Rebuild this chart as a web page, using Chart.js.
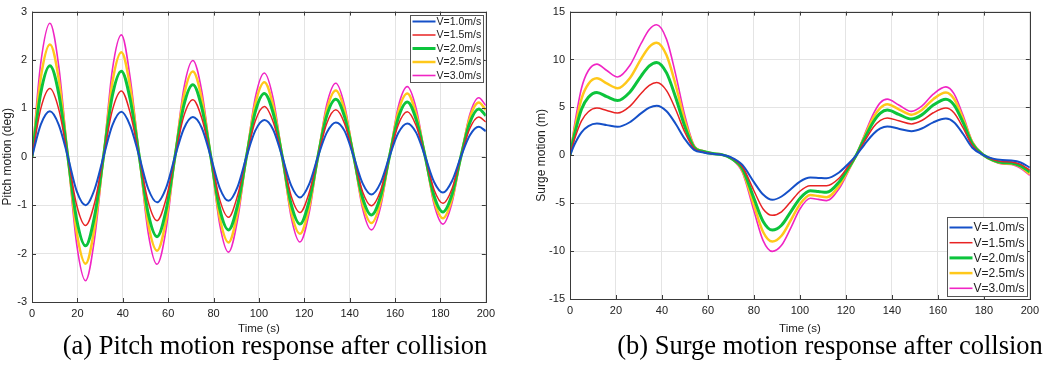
<!DOCTYPE html>
<html>
<head>
<meta charset="utf-8">
<script src="https://cdn.jsdelivr.net/npm/chart.js@4.4.1/dist/chart.umd.min.js"></script>
<style>
  body { margin: 0; background: #fff; width: 1052px; height: 369px; overflow: hidden; position: relative; }
  canvas { position: absolute; top: 0; }
  #pitchChart { left: 0; }
  #surgeChart { left: 534px; }
  .caption { position: absolute; top: 332px; line-height: 1; font-family: "Liberation Serif", "Times New Roman", serif;
             font-size: 26.5px; color: #000; white-space: nowrap; transform: translateX(-50%); }
</style>
</head>
<body>
<canvas id="pitchChart" width="500" height="340"></canvas>
<canvas id="surgeChart" width="510" height="340"></canvas>
<div class="caption" style="left:275px">(a) Pitch motion response after collision</div>
<div class="caption" style="left:830px">(b) Surge motion response after collsion</div>
<script>
// --- Data ---
const seriesLabels = ["V=1.0m/s", "V=1.5m/s", "V=2.0m/s", "V=2.5m/s", "V=3.0m/s"];
const xTicks = [0, 20, 40, 60, 80, 100, 120, 140, 160, 180, 200];
const pitchTicks = [-3, -2, -1, 0, 1, 2, 3];
const surgeTicks = [-15, -10, -5, 0, 5, 10, 15];

// pitch motion (deg), sampled at these times (s)
const pitchTime = [0, 3.9, 7.9, 11.8, 15.8, 19.7, 23.6, 27.6, 31.5, 35.4, 39.4, 43.3, 47.3, 51.2, 55.1, 59.1,
  63, 66.9, 70.9, 74.8, 78.8, 82.7, 86.6, 90.6, 94.5, 98.4, 102.4, 106.3, 110.3, 114.2, 118.1, 122.1,
  126, 129.9, 133.9, 137.8, 141.8, 145.7, 149.6, 153.6, 157.5, 161.4, 165.4, 169.3, 173.3, 177.2, 181.1, 185.1,
  189, 192.9, 196.9, 200];
const pitchV10 = [0, 0.67, 0.94, 0.66, 0, -0.71, -1.0, -0.67, 0, 0.65, 0.93, 0.64, 0, -0.66, -0.94, -0.64,
  0, 0.58, 0.82, 0.6, 0, -0.64, -0.91, -0.62, 0, 0.54, 0.76, 0.56, 0, -0.59, -0.84, -0.57,
  0, 0.5, 0.71, 0.53, 0, -0.55, -0.78, -0.54, 0, 0.49, 0.69, 0.5, 0, -0.52, -0.74, -0.5,
  0, 0.44, 0.62, 0.53];
const pitchV15 = [0, 1.0, 1.41, 0.98, 0, -1.0, -1.42, -0.95, 0, 0.96, 1.36, 0.9, 0, -0.93, -1.32, -0.87,
  0, 0.84, 1.18, 0.8, 0, -0.88, -1.25, -0.8, 0, 0.74, 1.04, 0.72, 0, -0.81, -1.15, -0.75,
  0, 0.69, 0.97, 0.68, 0, -0.72, -1.01, -0.7, 0, 0.66, 0.93, 0.64, 0, -0.68, -0.96, -0.66,
  0, 0.58, 0.82, 0.72];
const pitchV20 = [0, 1.33, 1.88, 1.3, 0, -1.3, -1.84, -1.22, 0, 1.26, 1.77, 1.18, 0, -1.17, -1.65, -1.1,
  0, 1.06, 1.49, 1.02, 0, -1.07, -1.51, -1.0, 0, 0.93, 1.31, 0.9, 0, -0.98, -1.39, -0.92,
  0, 0.85, 1.19, 0.82, 0, -0.85, -1.2, -0.82, 0, 0.8, 1.13, 0.77, 0, -0.81, -1.14, -0.78,
  0, 0.7, 0.99, 0.85];
const pitchV25 = [0, 1.64, 2.32, 1.6, 0, -1.56, -2.21, -1.45, 0, 1.53, 2.16, 1.43, 0, -1.38, -1.94, -1.3,
  0, 1.25, 1.76, 1.2, 0, -1.25, -1.77, -1.15, 0, 1.09, 1.54, 1.05, 0, -1.13, -1.59, -1.05,
  0, 0.97, 1.37, 0.95, 0, -0.97, -1.37, -0.94, 0, 0.93, 1.31, 0.88, 0, -0.9, -1.27, -0.87,
  0, 0.8, 1.12, 0.97];
const pitchV30 = [0, 1.95, 2.76, 1.87, 0, -1.81, -2.56, -1.68, 0, 1.79, 2.52, 1.62, 0, -1.57, -2.22, -1.5,
  0, 1.41, 1.99, 1.36, 0, -1.39, -1.97, -1.3, 0, 1.22, 1.73, 1.2, 0, -1.24, -1.76, -1.17,
  0, 1.08, 1.52, 1.05, 0, -1.07, -1.51, -1.04, 0, 1.03, 1.45, 1.0, 0, -0.98, -1.39, -0.95,
  0, 0.87, 1.22, 1.06];

// surge motion (m)
const surgeTime = [0, 2, 5, 8, 11.7, 16, 20.7, 26, 31, 34.5, 37.7, 42, 46, 50, 54, 58, 62, 66, 70, 75,
  80, 84, 88, 92, 96, 100, 104.5, 108, 111.6, 117, 121, 124.5, 128, 132, 135, 138, 143, 148.5, 153, 158,
  163.5, 167, 171, 175, 180, 184, 188, 192, 196, 200];
const surgeV10 = [0, 1.15, 2.4, 3.05, 3.31, 3.15, 2.97, 3.45, 4.4, 4.97, 5.17, 4.6, 3.27, 1.69, 0.57, 0.3, 0.15, 0.05, -0.2, -1.0,
  -2.8, -4.1, -4.65, -4.3, -3.55, -2.75, -2.33, -2.36, -2.4, -1.8, -0.9, 0, 1.1, 2.25, 2.8, 3.0, 2.78, 2.52, 2.8, 3.44,
  3.83, 3.45, 2.22, 0.79, 0, -0.35, -0.5, -0.55, -0.75, -1.28];
const surgeV15 = [0, 1.7, 3.6, 4.55, 4.93, 4.68, 4.41, 5.11, 6.48, 7.3, 7.59, 6.75, 4.75, 2.38, 0.7, 0.35, 0.17, 0.06, -0.25, -1.2,
  -3.7, -5.6, -6.27, -5.9, -4.85, -3.75, -3.18, -3.18, -3.18, -2.4, -1.15, 0, 1.4, 2.95, 3.65, 3.9, 3.6, 3.28, 3.63, 4.44,
  4.93, 4.44, 2.86, 1.01, 0, -0.45, -0.65, -0.7, -0.95, -1.55];
const surgeV20 = [0, 2.2, 4.8, 6.05, 6.55, 6.12, 5.72, 6.59, 8.3, 9.33, 9.69, 8.6, 6.0, 2.97, 0.82, 0.4, 0.18, 0.07, -0.3, -1.4,
  -4.5, -6.9, -7.8, -7.3, -5.9, -4.5, -3.7, -3.78, -3.87, -2.8, -1.35, 0, 1.7, 3.5, 4.4, 4.72, 4.27, 3.79, 4.22, 5.24,
  5.86, 5.27, 3.4, 1.2, 0, -0.5, -0.75, -0.8, -1.1, -1.75];
const surgeV25 = [0, 2.7, 5.9, 7.45, 8.03, 7.5, 7.0, 8.05, 10.1, 11.33, 11.76, 10.44, 7.29, 3.57, 0.93, 0.42, 0.18, 0.07, -0.3, -1.6,
  -5.2, -8.0, -9.0, -8.4, -6.8, -5.1, -4.14, -4.26, -4.38, -3.2, -1.55, 0, 1.9, 3.95, 4.95, 5.34, 4.8, 4.24, 4.73, 5.86,
  6.55, 5.9, 3.8, 1.34, 0, -0.55, -0.82, -0.88, -1.2, -1.95];
const surgeV30 = [0, 3.2, 7.0, 8.85, 9.52, 8.85, 8.17, 9.37, 11.71, 13.13, 13.62, 12.1, 8.4, 4.1, 1.03, 0.45, 0.18, 0.07, -0.35, -1.8,
  -5.8, -8.9, -10.03, -9.4, -7.6, -5.6, -4.49, -4.6, -4.73, -3.5, -1.7, 0, 2.1, 4.35, 5.5, 5.86, 5.25, 4.59, 5.13, 6.38,
  7.14, 6.43, 4.14, 1.46, 0, -0.6, -0.9, -0.95, -1.35, -2.1];

// --- Styles ---
const lineColors = ["#1550c8", "#e82323", "#0cc43c", "#ffc81a", "#f025c4"];
const lineWidths = [2, 1.5, 3, 2.5, 1.6];
const sansFont = "'Liberation Sans', Arial, sans-serif";

function makeDatasets(time, series){
    return series.map((vals, i) => ({
        label: seriesLabels[i],
        data: vals.map((v, j) => ({x: time[j], y: v})),
        borderColor: lineColors[i],
        borderWidth: lineWidths[i],
        pointRadius: 0,
        cubicInterpolationMode: 'monotone',
        fill: false
    }));
}

// frame box, inward ticks and legend inside the plot (MATLAB look)
const framePlugin = {
    id: 'frame',
    afterDatasetsDraw(chart, args, opts){
        const {ctx, chartArea: a, scales} = chart;
        ctx.save();
        ctx.strokeStyle = '#3a3a3a';
        ctx.lineWidth = 1;
        ctx.strokeRect(Math.round(a.left) + 0.5, Math.round(a.top) + 0.5, Math.round(a.right - a.left), Math.round(a.bottom - a.top));
        ctx.beginPath();
        scales.x.ticks.forEach(t => {
            const px = Math.round(scales.x.getPixelForValue(t.value)) + 0.5;
            ctx.moveTo(px, a.bottom); ctx.lineTo(px, a.bottom - 4);
            ctx.moveTo(px, a.top); ctx.lineTo(px, a.top + 4);
        });
        scales.y.ticks.forEach(t => {
            const py = Math.round(scales.y.getPixelForValue(t.value)) + 0.5;
            ctx.moveTo(a.left, py); ctx.lineTo(a.left + 4, py);
            ctx.moveTo(a.right, py); ctx.lineTo(a.right - 4, py);
        });
        ctx.stroke();

        // legend
        const w = opts.width, h = opts.height;
        const x0 = Math.round(a.right - opts.inset - w) + 0.5;
        const y0 = opts.top ? Math.round(a.top + opts.inset) + 0.5 : Math.round(a.bottom - opts.inset - h) + 0.5;
        ctx.fillStyle = '#fff';
        ctx.fillRect(x0, y0, w, h);
        ctx.strokeStyle = '#555';
        ctx.strokeRect(x0, y0, w, h);
        ctx.font = opts.fontSize + 'px ' + sansFont;
        ctx.textBaseline = 'middle';
        chart.data.datasets.forEach((ds, i) => {
            const y = y0 + opts.firstRow + i * opts.rowH;
            ctx.strokeStyle = ds.borderColor;
            ctx.lineWidth = ds.borderWidth;
            ctx.beginPath();
            ctx.moveTo(x0 + 2, y); ctx.lineTo(x0 + 2 + opts.lineLen, y);
            ctx.stroke();
            ctx.fillStyle = '#222';
            ctx.fillText(ds.label, x0 + 3 + opts.lineLen, y + 0.5);
        });
        ctx.restore();
    }
};

function makeChart(id, time, series, yTicks, yTitle, pad, yWidth, xHeight, legend){
    return new Chart(document.getElementById(id).getContext('2d'), {
        type: 'line',
        data: { datasets: makeDatasets(time, series) },
        options: {
            responsive: false,
            animation: false,
            devicePixelRatio: 1,
            layout: { padding: pad },
            plugins: { legend: { display: false }, tooltip: { enabled: false }, frame: legend },
            scales: {
                x: {
                    type: 'linear', min: xTicks[0], max: xTicks[xTicks.length - 1],
                    afterBuildTicks: s => { s.ticks = xTicks.map(v => ({value: v})); },
                    afterFit: s => { s.height = xHeight; },
                    grid: { color: '#e4e4e4', drawTicks: false },
                    border: { display: false },
                    ticks: { padding: 5, maxRotation: 0, color: '#222', font: { size: 11, family: sansFont } },
                    title: { display: true, text: 'Time (s)', color: '#222', padding: { top: 0, bottom: 4 }, font: { size: 11.5, family: sansFont } }
                },
                y: {
                    type: 'linear', min: yTicks[0], max: yTicks[yTicks.length - 1],
                    afterBuildTicks: s => { s.ticks = yTicks.map(v => ({value: v})); },
                    afterFit: s => { s.width = yWidth; },
                    grid: { color: '#e4e4e4', drawTicks: false },
                    border: { display: false },
                    ticks: { padding: 5, color: '#222', font: { size: 11, family: sansFont } },
                    title: { display: true, text: yTitle, color: '#222', padding: 0, font: { size: 12, family: sansFont } }
                }
            }
        },
        plugins: [framePlugin]
    });
}

makeChart('pitchChart', pitchTime, [pitchV10, pitchV15, pitchV20, pitchV25, pitchV30], pitchTicks,
    'Pitch motion (deg)', {left: 0, right: 11, top: 7, bottom: 0}, 32, 38,
    {top: true, inset: 3, width: 73, height: 67, firstRow: 6, rowH: 13.5, lineLen: 23, fontSize: 10.5});

makeChart('surgeChart', surgeTime, [surgeV10, surgeV15, surgeV20, surgeV25, surgeV30], surgeTicks,
    'Surge motion (m)', {left: 0, right: 14, top: 9, bottom: 0}, 36, 41,
    {top: false, inset: 3, width: 80, height: 79, firstRow: 10, rowH: 15.2, lineLen: 23, fontSize: 12});
</script>
</body>
</html>
